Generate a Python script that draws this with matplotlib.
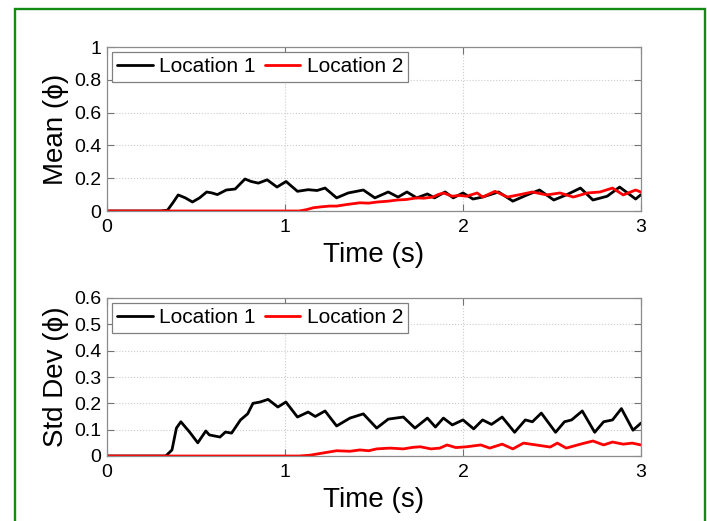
import matplotlib
matplotlib.use("Agg")
import matplotlib.pyplot as plt
from matplotlib.patches import Rectangle

plt.rcParams['font.family'] = ['Liberation Sans', 'DejaVu Sans']

# Mean of phi at two locations
mean_t1 = [0, 0.30, 0.34, 0.37, 0.40, 0.44, 0.48, 0.52, 0.56, 0.59, 0.62, 0.67, 0.72, 0.775,
           0.81, 0.85, 0.90, 0.955, 1.006, 1.07, 1.13, 1.18, 1.225, 1.29, 1.355, 1.44, 1.505,
           1.58, 1.635, 1.685, 1.74, 1.80, 1.84, 1.90, 1.945, 2.0, 2.056, 2.11, 2.20, 2.28,
           2.36, 2.43, 2.51, 2.58, 2.66, 2.73, 2.81, 2.88, 2.97, 3.0]
mean_v1 = [0, 0, 0.005, 0.05, 0.098, 0.08, 0.055, 0.08, 0.116, 0.11, 0.10, 0.128, 0.134, 0.195,
           0.18, 0.17, 0.19, 0.146, 0.18, 0.12, 0.13, 0.125, 0.14, 0.08, 0.11, 0.128, 0.08,
           0.116, 0.085, 0.116, 0.08, 0.104, 0.08, 0.116, 0.08, 0.11, 0.073, 0.085, 0.116, 0.06,
           0.098, 0.128, 0.067, 0.098, 0.14, 0.067, 0.09, 0.146, 0.073, 0.10]

mean_t2 = [0, 1.08, 1.12, 1.16, 1.2, 1.25, 1.29, 1.35, 1.42, 1.47, 1.52, 1.58, 1.63, 1.68,
           1.74, 1.78, 1.83, 1.86, 1.89, 1.94, 1.98, 2.02, 2.08, 2.11, 2.18, 2.25, 2.32, 2.39,
           2.47, 2.545, 2.62, 2.70, 2.77, 2.84, 2.90, 2.97, 3.0]
mean_v2 = [0, 0, 0.008, 0.02, 0.025, 0.03, 0.03, 0.04, 0.05, 0.048, 0.055, 0.06, 0.067, 0.07,
           0.08, 0.078, 0.085, 0.1, 0.11, 0.09, 0.095, 0.09, 0.11, 0.085, 0.12, 0.085, 0.10,
           0.116, 0.098, 0.11, 0.085, 0.11, 0.116, 0.14, 0.098, 0.128, 0.115]

# Standard deviation of phi at two locations
std_t1 = [0, 0.33, 0.365, 0.39, 0.415, 0.465, 0.51, 0.555, 0.575, 0.635, 0.665, 0.70, 0.75,
          0.79, 0.82, 0.86, 0.905, 0.96, 1.005, 1.07, 1.13, 1.17, 1.225, 1.29, 1.365, 1.44,
          1.515, 1.58, 1.665, 1.73, 1.80, 1.845, 1.89, 1.94, 2.0, 2.06, 2.11, 2.16, 2.22, 2.29,
          2.35, 2.39, 2.44, 2.52, 2.57, 2.61, 2.67, 2.74, 2.79, 2.84, 2.89, 2.955, 3.0]
std_v1 = [0, 0, 0.023, 0.106, 0.13, 0.09, 0.05, 0.095, 0.08, 0.072, 0.091, 0.087, 0.137,
          0.16, 0.20, 0.205, 0.215, 0.186, 0.205, 0.148, 0.167, 0.15, 0.171, 0.114, 0.144, 0.16,
          0.106, 0.14, 0.148, 0.106, 0.144, 0.11, 0.144, 0.118, 0.137, 0.103, 0.137, 0.12, 0.148,
          0.09, 0.137, 0.13, 0.163, 0.09, 0.13, 0.137, 0.171, 0.09, 0.13, 0.137, 0.18, 0.098, 0.125]

std_t2 = [0, 1.08, 1.14, 1.21, 1.29, 1.365, 1.42, 1.47, 1.515, 1.59, 1.665, 1.72, 1.76, 1.82,
          1.87, 1.91, 1.96, 2.02, 2.1, 2.15, 2.22, 2.28, 2.34, 2.41, 2.49, 2.53, 2.58, 2.66,
          2.73, 2.79, 2.84, 2.90, 2.95, 3.0]
std_v2 = [0, 0, 0.003, 0.011, 0.02, 0.018, 0.023, 0.02, 0.027, 0.03, 0.027, 0.033, 0.035,
          0.027, 0.03, 0.042, 0.032, 0.035, 0.042, 0.03, 0.045, 0.027, 0.049, 0.042, 0.034,
          0.049, 0.03, 0.045, 0.057, 0.042, 0.053, 0.045, 0.049, 0.042]

x_ticks = [0, 1, 2, 3]
mean_yticks = [0, 0.2, 0.4, 0.6, 0.8, 1]
mean_ylabels = ['0', '0.2', '0.4', '0.6', '0.8', '1']
std_yticks = [0, 0.1, 0.2, 0.3, 0.4, 0.5, 0.6]
std_ylabels = ['0', '0.1', '0.2', '0.3', '0.4', '0.5', '0.6']
series_names = ['Location 1', 'Location 2']

W, H = 707, 521
fig = plt.figure(figsize=(W / 100, H / 100), dpi=100)
fig.patch.set_facecolor('white')

# green frame around the figure
fig.patches.append(Rectangle((15 / W, -0.05), (705 - 15) / W, 1.05 - 9 / H,
                             transform=fig.transFigure, fill=False,
                             edgecolor='#138a13', linewidth=1.7))


def px_axes(left, top, right, bottom):
    return fig.add_axes([left / W, 1 - bottom / H, (right - left) / W, (bottom - top) / H])


def style(ax, yticks, ylabels, ymax, ylabel):
    ax.set_xlim(0, 3)
    ax.set_ylim(0, ymax)
    ax.set_xticks(x_ticks)
    ax.set_xticklabels([str(v) for v in x_ticks])
    ax.set_yticks(yticks)
    ax.set_yticklabels(ylabels)
    ax.tick_params(direction='in', length=5, width=0.8, color='0.45', labelsize=14,
                   top=True, right=True)
    ax.tick_params(axis='x', pad=6)
    ax.tick_params(axis='y', pad=4)
    for s in ax.spines.values():
        s.set_color('0.55')
        s.set_linewidth(0.9)
    ax.grid(True, linestyle=':', color='0.8', linewidth=0.8)
    ax.set_axisbelow(True)
    ax.set_xlabel('Time (s)', fontsize=20, labelpad=4)
    ax.set_ylabel(ylabel, fontsize=20, labelpad=4)
    leg = ax.legend(series_names, loc='upper left', ncol=2, fontsize=15, frameon=True,
                    fancybox=False, framealpha=1, edgecolor='0.5', handlelength=1.7,
                    handletextpad=0.3, columnspacing=0.45, borderpad=0.25,
                    borderaxespad=0.25)
    leg.get_frame().set_linewidth(0.9)


line_kw = dict(linewidth=2.0, solid_joinstyle='round', solid_capstyle='round')

ax1 = px_axes(107, 47, 641, 211)
ax1.plot(mean_t1, mean_v1, color='black', **line_kw)
ax1.plot(mean_t2, mean_v2, color='red', **line_kw)
style(ax1, mean_yticks, mean_ylabels, 1, 'Mean (ϕ)')

ax2 = px_axes(107, 298, 641, 456)
ax2.plot(std_t1, std_v1, color='black', **line_kw)
ax2.plot(std_t2, std_v2, color='red', **line_kw)
style(ax2, std_yticks, std_ylabels, 0.6, 'Std Dev (ϕ)')

fig.savefig('out.png', dpi=100, facecolor='white')
